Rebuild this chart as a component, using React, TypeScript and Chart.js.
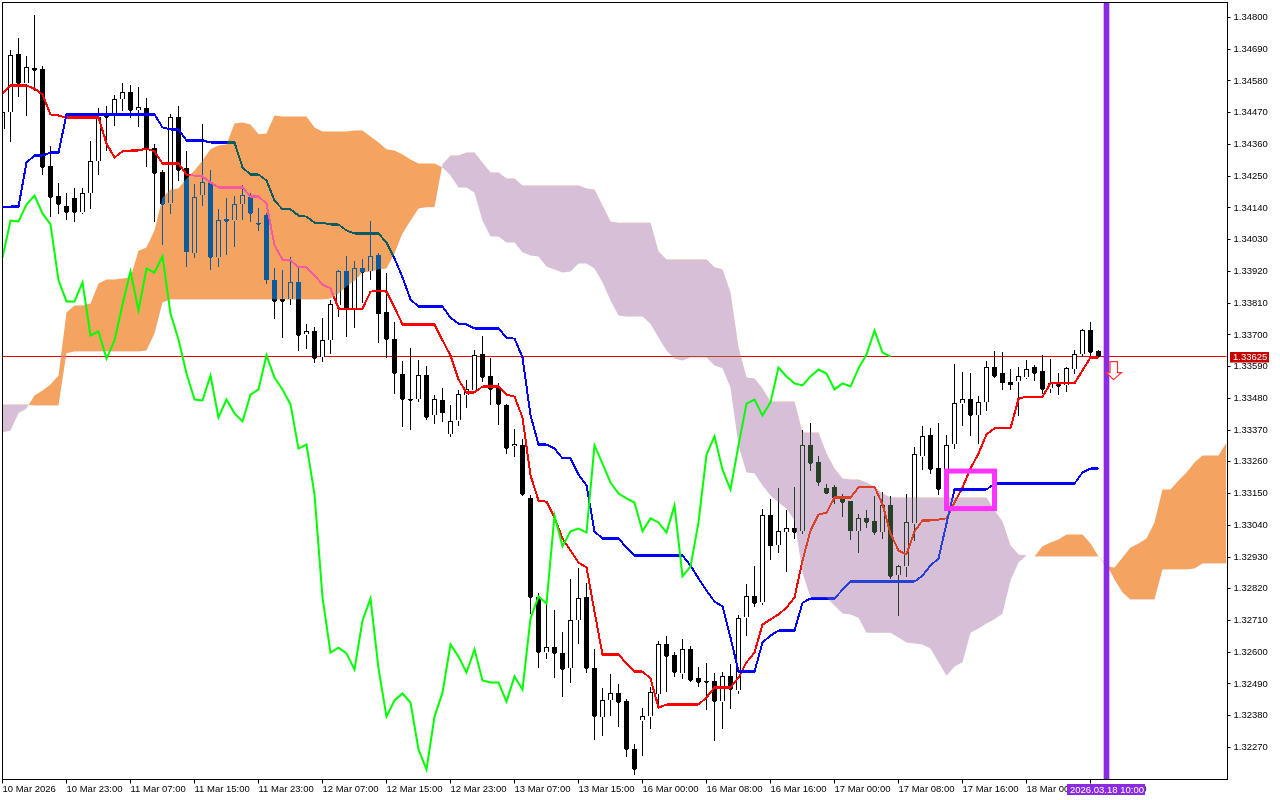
import { useEffect, useRef } from "react";
import { Chart, registerables } from "chart.js";

// all prices are in points (1 point = 0.00001)
const tickLabels = [
  "10 Mar 2026", "10 Mar 23:00", "11 Mar 07:00", "11 Mar 15:00", "11 Mar 23:00", "12 Mar 07:00",
  "12 Mar 15:00", "12 Mar 23:00", "13 Mar 07:00", "13 Mar 15:00", "16 Mar 00:00", "16 Mar 08:00",
  "16 Mar 16:00", "17 Mar 00:00", "17 Mar 08:00", "17 Mar 16:00", "18 Mar 00:00", "18 Mar 08:00",
];
const priceTicks = [
  134800, 134690, 134580, 134470, 134360, 134250, 134140, 134030, 133920, 133810, 133700, 133590,
  133480, 133370, 133260, 133150, 133040, 132930, 132820, 132710, 132600, 132490, 132380, 132270,
];
const BARS = 154;
const lastPrice = 133625;
const markerBar = 138;
const markerLabel = "2026.03.18 10:00";
const boxBars = [118, 124];
const boxPrices = [133228, 133098];
const arrowBar = 139;
const arrowPrice = 133545;

const open = [
  134412,134471,134672,134571,134623,134620,134284,134180,134145,134173,134124,134190,134301,134464,134460,134516,134540,134478,134485,134346,
  134263,134155,134453,134277,133982,134183,134228,133968,134100,134096,134152,134176,134086,134114,133889,133823,133823,133882,133701,133712,
  133622,133681,133802,133920,133785,133930,133920,133975,133778,133684,133563,133476,133476,133559,133421,133473,133355,133403,133490,133507,
  133632,133556,133518,133455,133313,133317,133133,132790,132599,132616,132596,132544,132710,132790,132544,132374,132433,132457,132429,132263,
  132363,132377,132454,132627,132589,132526,132610,132509,132499,132499,132429,132516,132467,132720,132793,132772,133074,132970,133015,133029,
  133019,133317,133258,133168,133171,133129,133123,133019,133064,133053,133015,133109,132866,132897,133046,133278,133351,133237,133161,133320,
  133462,133476,133421,133466,133587,133566,133535,133538,133552,133587,133573,133514,133528,133525,133580,133632,133715,133642,
];
const high = [
  134478,134686,134727,134665,134807,134630,134353,134225,134190,134207,134207,134370,134485,134492,134530,134571,134564,134557,134519,134360,
  134270,134464,134492,134336,134221,134429,134270,134135,134173,134180,134218,134190,134138,134121,133930,133923,133968,133930,133736,133726,
  133757,133819,133923,133972,133954,133961,134093,133982,133913,133743,133608,133653,133611,133590,133490,133514,133455,133507,133542,133646,
  133694,133618,133532,133459,133372,133337,133143,132804,132772,132745,132668,132852,132890,132838,132610,132474,132523,132488,132436,132280,
  132405,132478,132637,132655,132599,132644,132620,132547,132561,132526,132530,132558,132727,132835,132897,133095,133129,133168,133091,133171,
  133369,133393,133278,133181,133178,133147,133123,133077,133091,133140,133154,133140,132901,133147,133310,133382,133376,133393,133351,133597,
  133570,133566,133486,133608,133642,133639,133580,133587,133611,133594,133629,133615,133566,133587,133646,133719,133743,133646,
];
const low = [
  134405,134370,134526,134460,134547,134256,134110,134121,134100,134093,134121,134138,134256,134339,134426,134478,134453,134422,134284,134093,
  134013,134121,134235,133937,133968,134148,133927,133937,133979,134006,134100,134093,134062,133878,133757,133691,133805,133646,133653,133604,
  133608,133636,133764,133694,133726,133812,133892,133674,133622,133497,133382,133372,133469,133407,133393,133400,133348,133386,133448,133500,
  133538,133459,133389,133289,133278,133143,132734,132547,132578,132513,132447,132495,132630,132530,132298,132311,132381,132343,132239,132176,
  132242,132336,132408,132464,132516,132509,132499,132481,132402,132294,132336,132405,132457,132658,132759,132766,132922,132946,132880,132994,
  133012,133230,133178,133150,133116,133071,132991,132946,133032,133008,132994,132856,132727,132863,132987,133233,133220,133147,133143,133306,
  133386,133351,133324,133438,133552,133511,133511,133421,133549,133542,133497,133500,133493,133504,133566,133625,133629,133622,
];
const close = [
  134471,134668,134571,134627,134616,134280,134176,134152,134124,134124,134190,134301,134453,134453,134516,134540,134478,134488,134346,134259,
  134152,134453,134270,133986,134176,134228,133968,134096,134093,134152,134183,134121,134083,133889,133816,133816,133882,133698,133712,133618,
  133681,133805,133920,133785,133930,133916,133972,133774,133684,133566,133476,133473,133559,133414,133476,133428,133400,133493,133511,133629,
  133552,133511,133459,133306,133320,133147,132790,132599,132616,132596,132540,132710,132786,132544,132377,132433,132457,132426,132263,132194,
  132377,132460,132627,132585,132530,132610,132502,132495,132495,132429,132516,132471,132717,132793,132769,133074,132967,133019,133029,133015,
  133317,133254,133188,133150,133133,133119,133019,133064,133050,133015,133109,132863,132897,133050,133285,133348,133233,133164,133317,133462,
  133476,133421,133466,133587,133556,133532,133525,133556,133580,133566,133511,133532,133521,133584,133632,133715,133639,133625,
];
const tenkan = [
  134537,134564,134564,134564,134554,134533,134464,134460,134453,134453,134453,134453,134453,134363,134315,134336,134339,134339,134346,134336,
  134294,134294,134294,134256,134252,134249,134228,134211,134211,134211,134211,134180,134180,134155,134010,133961,133958,133934,133934,133906,
  133875,133861,133791,133791,133791,133791,133850,133854,133850,133795,133736,133736,133736,133736,133736,133681,133629,133545,133500,133500,
  133521,133521,133521,133493,133486,133414,133213,133126,133122,133067,132994,132953,132911,132894,132741,132592,132592,132592,132561,132533,
  132533,132509,132408,132419,132419,132419,132419,132419,132443,132478,132478,132478,132512,132565,132599,132696,132714,132731,132755,132790,
  132918,133022,133077,133084,133136,133136,133136,133171,133174,133174,133112,133012,132953,132939,133019,133057,133057,133060,133064,133119,
  133171,133237,133289,133355,133376,133376,133376,133479,133486,133486,133486,133532,133532,133532,133532,133577,133622,133622,
];
const kijun = [
  134142,134145,134145,134297,134322,134322,134332,134332,134464,134464,134464,134464,134464,134464,134464,134464,134464,134464,134464,134464,
  134419,134412,134412,134374,134374,134374,134367,134367,134367,134367,134280,134256,134256,134235,134166,134135,134135,134114,134110,134089,
  134089,134083,134083,134062,134051,134051,134051,134051,134020,133965,133899,133823,133798,133798,133798,133798,133760,133739,133736,133722,
  133722,133722,133722,133691,133687,133622,133421,133320,133320,133306,133272,133272,133216,133178,133019,132994,132994,132994,132963,132935,
  132935,132935,132935,132935,132935,132935,132901,132856,132814,132776,132759,132651,132533,132533,132533,132634,132658,132675,132675,132675,
  132772,132786,132786,132786,132786,132817,132845,132845,132845,132845,132845,132845,132845,132845,132845,132866,132901,132925,133046,133164,
  133164,133164,133164,133164,133185,133185,133185,133185,133185,133185,133185,133185,133185,133185,133185,133223,133237,133237,
];
const chikou = [
  133968,134096,134093,134152,134183,134121,134083,133889,133816,133816,133882,133698,133712,133618,133681,133805,133920,133785,133930,133916,
  133972,133774,133684,133566,133476,133473,133559,133414,133476,133428,133400,133493,133511,133629,133552,133511,133459,133306,133320,133147,
  132790,132599,132616,132596,132540,132710,132786,132544,132377,132433,132457,132426,132263,132194,132377,132460,132627,132585,132530,132610,
  132502,132495,132495,132429,132516,132471,132717,132793,132769,133074,132967,133019,133029,133015,133317,133254,133188,133150,133133,133119,
  133019,133064,133050,133015,133109,132863,132897,133050,133285,133348,133233,133164,133317,133462,133476,133421,133466,133587,133556,133532,
  133525,133556,133580,133566,133511,133532,133521,133584,133632,133715,133639,133625,
];
const senkouA = [
  133362,133369,133428,133445,133490,133507,133528,133559,133778,133802,133802,133809,133878,133892,133892,133895,133899,133992,134003,134062,
  134176,134204,134207,134242,134270,134304,134343,134356,134360,134433,134436,134429,134395,134398,134460,134457,134457,134457,134457,134419,
  134405,134405,134405,134405,134408,134408,134388,134367,134343,134339,134325,134308,134294,134294,134294,134280,134252,134211,134211,134193,
  134096,134041,134041,134020,134020,133986,133975,133972,133937,133927,133916,133920,133947,133947,133930,133882,133819,133767,133764,133764,
  133764,133739,133691,133646,133618,133611,133622,133622,133622,133594,133584,133518,133317,133223,133220,133178,133143,133119,133098,133057,
  132876,132790,132790,132790,132762,132734,132731,132720,132668,132668,132668,132668,132651,132634,132630,132627,132613,132565,132519,132551,
  132565,132668,132682,132700,132714,132734,132849,132911,132935,132932,132967,132980,132991,133008,133008,133008,132977,132932,132897,132894,
  132928,132963,132977,132994,133050,133164,133164,133195,133223,133258,133282,133282,133282,133327,
];
const senkouB = [
  133459,133459,133459,133459,133455,133455,133455,133455,133636,133642,133642,133642,133642,133642,133642,133642,133642,133642,133646,133705,
  133812,133823,133823,133823,133823,133823,133823,133823,133823,133823,133823,133823,133823,133823,133823,133823,133823,133823,133823,133823,
  133823,133826,133843,133868,133888,133916,133920,133927,133930,133982,134051,134096,134138,134142,134142,134291,134322,134322,134332,134332,
  134297,134263,134263,134242,134242,134218,134218,134218,134218,134218,134218,134218,134218,134207,134204,134148,134093,134089,134089,134089,
  134089,134089,133989,133961,133961,133961,133961,133961,133961,133934,133927,133847,133656,133552,133549,133514,133469,133469,133469,133469,
  133362,133362,133362,133289,133237,133202,133199,133199,133188,133174,133150,133136,133136,133136,133136,133136,133136,133136,133136,133136,
  133136,133136,133136,133136,133091,133053,132970,132939,132935,132932,132932,132932,132932,132932,132932,132932,132932,132932,132904,132852,
  132807,132783,132783,132783,132783,132887,132887,132887,132887,132890,132908,132908,132908,132908,
];

const labels = Array.from({ length: BARS }, (_, i) => (i % 8 === 0 ? tickLabels[i / 8] ?? "" : ""));
const yMin = 132159;
const yMax = 134852;

const bullBody = open.map((o, i) => (close[i] >= o ? [o, close[i]] : null));
const bearBody = open.map((o, i) => (close[i] < o ? [close[i], o] : null));
const wicks = low.map((l, i) => [l, high[i]]);
const markerData = labels.map((_, i) => (i === markerBar ? [yMin, yMax] : null));

// the terminal draws without antialiasing, and blending soft edges gives dark halos,
// so snap everything under the cloud to full channels first
const snapPixels = (chart: any) => {
  const { ctx, chartArea } = chart;
  const x = Math.ceil(chartArea.left);
  const y = Math.ceil(chartArea.top);
  const w = Math.floor(chartArea.right - x);
  const h = Math.floor(chartArea.bottom - y);
  const img = ctx.getImageData(x, y, w, h);
  const d = img.data;
  for (let i = 0; i < d.length; i += 4) {
    // price line keeps its darker red
    if (d[i] > 190 && d[i] < 240 && d[i + 1] < 30 && d[i + 2] < 30) {
      d[i] = 224;
      d[i + 1] = 0;
      d[i + 2] = 0;
      continue;
    }
    d[i] = d[i] >= 128 ? 255 : 0;
    d[i + 1] = d[i + 1] >= 128 ? 255 : 0;
    d[i + 2] = d[i + 2] >= 128 ? 255 : 0;
  }
  ctx.putImageData(img, x, y);
};

// the terminal paints the cloud in XOR over what is already there, so candles
// and lines change colour inside it. "difference" gives the same result here.
const cloudBlend = {
  id: "cloudBlend",
  beforeDatasetDraw(chart: any, args: any) {
    if (chart.data.datasets[args.index].cloud) {
      snapPixels(chart);
      chart.ctx.globalCompositeOperation = "difference";
    }
  },
  afterDatasetDraw(chart: any) {
    chart.ctx.globalCompositeOperation = "source-over";
  },
};

Chart.register(cloudBlend, ...registerables);

const tag = (ctx: any, text: string, x: number, y: number, w: number, h: number, bg: string) => {
  ctx.fillStyle = bg;
  ctx.fillRect(x, y, w, h);
  ctx.fillStyle = "#ffffff";
  ctx.textAlign = "left";
  ctx.textBaseline = "middle";
  ctx.font = "9.5px 'Liberation Sans'";
  ctx.fillText(text, x + 3, y + h / 2 + 0.5);
};

const overlays = {
  id: "overlays",
  beforeDraw(chart: any) {
    chart.ctx.fillStyle = "#ffffff";
    chart.ctx.fillRect(0, 0, chart.width, chart.height);
  },
  afterDatasetsDraw(chart: any) {
    const { ctx, scales } = chart;
    // magenta box
    const x0 = scales.x.getPixelForValue(boxBars[0]);
    const x1 = scales.x.getPixelForValue(boxBars[1]);
    const y0 = scales.y.getPixelForValue(boxPrices[0]);
    const y1 = scales.y.getPixelForValue(boxPrices[1]);
    ctx.save();
    ctx.strokeStyle = "#ff33ff";
    ctx.lineWidth = 5;
    ctx.strokeRect(x0, y0, x1 - x0, y1 - y0);
    // sell arrow
    const ax = scales.x.getPixelForValue(arrowBar) - 1;
    const ay = scales.y.getPixelForValue(arrowPrice);
    ctx.beginPath();
    ctx.moveTo(ax, ay);
    ctx.lineTo(ax + 8, ay - 7);
    ctx.lineTo(ax + 4, ay - 7);
    ctx.lineTo(ax + 4, ay - 18);
    ctx.lineTo(ax - 3.5, ay - 18);
    ctx.lineTo(ax - 3.5, ay - 7);
    ctx.lineTo(ax - 7, ay - 7);
    ctx.closePath();
    ctx.fillStyle = "#ffffff";
    ctx.fill();
    ctx.strokeStyle = "#ff3030";
    ctx.lineWidth = 1.2;
    ctx.stroke();
    ctx.restore();
  },
  afterDraw(chart: any) {
    const { ctx, scales, chartArea } = chart;
    ctx.save();
    ctx.strokeStyle = "#000000";
    ctx.lineWidth = 1;
    ctx.strokeRect(chartArea.left, chartArea.top, chartArea.right - chartArea.left + 1, chartArea.bottom - chartArea.top);
    tag(ctx, (lastPrice / 100000).toFixed(5), 1230, Math.round(scales.y.getPixelForValue(lastPrice)) - 5, 39, 10.5, "#c80000");
    tag(ctx, markerLabel, 1067, 784, 78, 11, "#8a2be2");
    ctx.restore();
  },
};

export default function App() {
  const chartRef = useRef<HTMLCanvasElement | null>(null);
  useEffect(() => {
    if (!chartRef.current) return;
    const line = (data: number[], color: string, order: number) => ({
      type: "line" as const,
      data,
      borderColor: color,
      borderWidth: 2,
      pointRadius: 0,
      tension: 0,
      fill: false,
      order,
    });
    const bar = (data: any[], bg: string, border: string, borderWidth: number, width: number, order: number) => ({
      type: "bar" as const,
      data,
      backgroundColor: bg,
      borderColor: border,
      borderWidth,
      grouped: false,
      barPercentage: 1,
      categoryPercentage: 1,
      maxBarThickness: width,
      order,
    });
    const chart = new Chart(chartRef.current, {
      type: "bar",
      data: {
        labels,
        datasets: [
          { ...line(labels.map(() => lastPrice), "#e00000", 90), borderWidth: 1 },
          bar(wicks, "#000000", "#000000", 0, 1, 80),
          bar(bullBody, "#ffffff", "#000000", 1, 5, 70),
          bar(bearBody, "#000000", "#000000", 1, 5, 70),
          line(tenkan, "#ff0000", 60),
          line(kijun, "#0000ff", 50),
          // 6: senkou A is filled against senkou B at index 7
          {
            type: "line" as const,
            data: senkouA,
            borderWidth: 0,
            pointRadius: 0,
            tension: 0,
            cloud: true,
            fill: { target: 7, above: "#0b5b9f", below: "#274027" },
            order: 40,
          } as any,
          { type: "line" as const, data: senkouB, borderWidth: 0, pointRadius: 0, tension: 0, fill: false, order: 41 },
          line(chikou, "#00ff00", 30),
          bar(markerData, "#8a2be2", "#8a2be2", 0, 5, 20),
        ] as any,
      },
      options: {
        responsive: false,
        animation: false,
        events: [],
        layout: { autoPadding: false, padding: { left: 2.5, top: 2.5, right: 0, bottom: 0 } },
        plugins: { legend: { display: false }, tooltip: { enabled: false } },
        scales: {
          x: {
            type: "category",
            offset: false,
            border: { display: false },
            grid: { offset: false, drawOnChartArea: false, drawTicks: true, tickLength: 4, color: "#000000" },
            ticks: {
              autoSkip: false,
              maxRotation: 0,
              minRotation: 0,
              align: "start",
              padding: 0,
              color: "#000000",
              font: { family: "'Liberation Sans'", size: 9.5 },
            },
            afterBuildTicks: (axis: any) => {
              axis.ticks = axis.ticks.filter((t: any) => t.value % 8 === 0 && labels[t.value] !== "");
            },
            afterFit: (axis: any) => {
              axis.height = 20.5;
              axis.paddingLeft = 0;
              axis.paddingRight = 0;
            },
          },
          y: {
            type: "linear",
            position: "right",
            min: yMin,
            max: yMax,
            border: { display: false },
            grid: { drawOnChartArea: false, drawTicks: true, tickLength: 4, color: "#000000" },
            ticks: {
              autoSkip: false,
              padding: 3,
              color: "#000000",
              font: { family: "'Liberation Sans'", size: 9.5 },
              callback: (v: any) => (Number(v) / 100000).toFixed(5),
            },
            afterBuildTicks: (axis: any) => {
              axis.ticks = priceTicks.map((value) => ({ value }));
            },
            afterFit: (axis: any) => {
              axis.width = 53.5;
              axis.paddingTop = 0;
              axis.paddingBottom = 0;
            },
          },
        },
      },
      plugins: [overlays],
    });
    return () => chart.destroy();
  }, []);

  return (
    <div style={{ position: "absolute", left: 0, top: 0, width: 1280, height: 800, background: "#ffffff" }}>
      <canvas ref={chartRef} width={1280} height={800} style={{ display: "block" }}></canvas>
    </div>
  );
}
